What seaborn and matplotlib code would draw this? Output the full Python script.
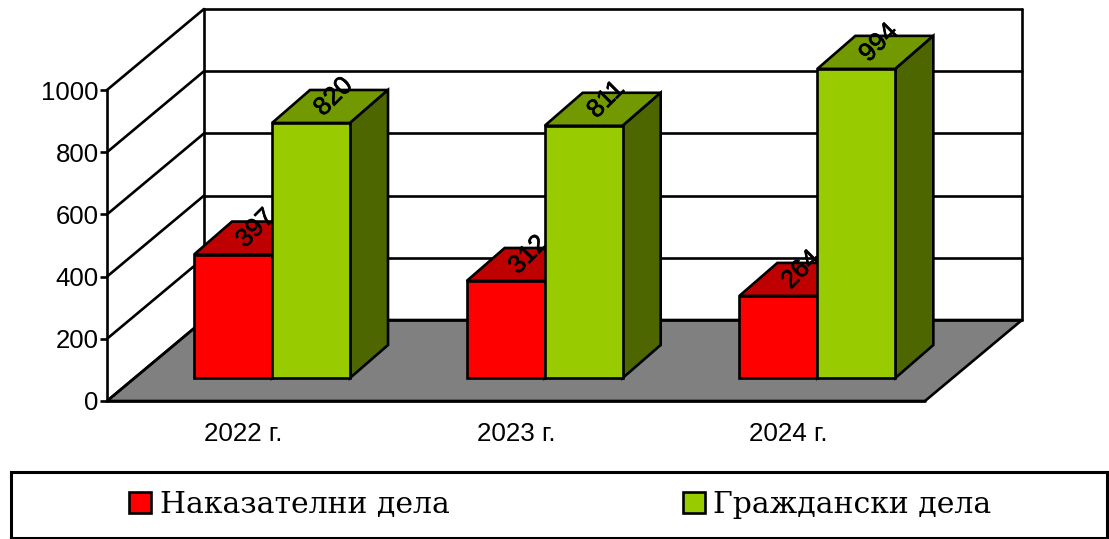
import matplotlib
matplotlib.use("Agg")
import matplotlib.pyplot as plt
import matplotlib.patheffects as pe
import seaborn as sns
import pandas as pd
from matplotlib.patches import Patch, Polygon, Rectangle

# values
years = ["2022 г.", "2023 г.", "2024 г."]
criminal = [397, 312, 264]
civil = [820, 811, 994]
series_names = ["Наказателни дела", "Граждански дела"]
y_ticks = [0, 200, 400, 600, 800, 1000]

# colours: front, top, side
face_colors = ["#FF0000", "#99CC00"]
top_colors = ["#BF0000", "#739900"]
side_colors = ["#800000", "#4D6600"]

W, H = 1109, 539
LEFT, RIGHT, BASE, TOP = 107, 925, 401, 90
LW = 1.9

sns.set_theme(style="white")
plt.rcParams["font.family"] = ["Liberation Sans", "DejaVu Sans"]

df = pd.DataFrame({
    "year": years * 2,
    "count": criminal + civil,
    "kind": [series_names[0]] * 3 + [series_names[1]] * 3,
})

fig = plt.figure(figsize=(W / 100, H / 100), dpi=100)
ax = fig.add_axes([LEFT / W, 1 - BASE / H, (RIGHT - LEFT) / W, (BASE - TOP) / H])

sns.barplot(
    data=df, x="year", y="count", hue="kind", order=years, hue_order=series_names,
    palette=face_colors, saturation=1, width=0.572, gap=0, edgecolor="black", linewidth=LW,
    legend=False, ax=ax, clip_on=False, zorder=5,
)

ax.set_xlim(-0.5, 2.5)
ax.set_ylim(0, 1000)

# pixels to data units
px_x = 3 / (RIGHT - LEFT)
px_y = 1000 / (BASE - TOP)


def dx(p):
    return p * px_x


def dy(p):
    return p * px_y


# bars come first in ax.patches, the room is added after this
bars = [p for p in ax.patches if isinstance(p, Rectangle)]

# room: floor, side wall and back wall
wall_x, wall_y = dx(97), dy(81)
ax.add_patch(Polygon(
    [(-0.5, 0), (2.5, 0), (2.5 + wall_x, wall_y), (-0.5 + wall_x, wall_y)],
    closed=True, facecolor="#808080", edgecolor="black", linewidth=LW,
    clip_on=False, zorder=1,
))
for t in y_ticks:
    ax.plot([-0.5, -0.5 + wall_x], [t, t + wall_y], color="black", lw=LW,
            clip_on=False, zorder=2, solid_capstyle="round")
    ax.plot([-0.5 + wall_x, 2.5 + wall_x], [t + wall_y, t + wall_y], color="black",
            lw=LW, clip_on=False, zorder=2)
ax.plot([-0.5 + wall_x] * 2, [wall_y, 1000 + wall_y], color="black", lw=LW,
        clip_on=False, zorder=2)
ax.plot([2.5 + wall_x] * 2, [wall_y, 1000 + wall_y], color="black", lw=LW,
        clip_on=False, zorder=2)

# bars sit part way into the room, then get a top and a side
shift_x, shift_y = dx(28.7), dy(23)
depth_x, depth_y = dx(38), dy(33)

for i, bar in enumerate(bars):
    s = i // 3
    z = 5 + (i % 3) * 3 + s * 0.5
    value = bar.get_height()
    x0 = bar.get_x() + shift_x
    w = bar.get_width()
    bar.set_x(x0)
    bar.set_y(shift_y)
    bar.set_zorder(z + 0.2)
    y1 = shift_y + value
    ax.add_patch(Polygon(
        [(x0, y1), (x0 + w, y1), (x0 + w + depth_x, y1 + depth_y), (x0 + depth_x, y1 + depth_y)],
        closed=True, facecolor=top_colors[s], edgecolor="black", linewidth=LW,
        clip_on=False, zorder=z,
    ))
    ax.add_patch(Polygon(
        [(x0 + w, shift_y), (x0 + w + depth_x, shift_y + depth_y),
         (x0 + w + depth_x, y1 + depth_y), (x0 + w, y1)],
        closed=True, facecolor=side_colors[s], edgecolor="black", linewidth=LW,
        clip_on=False, zorder=z,
    ))
    # red labels go behind the green bar next to them
    ax.annotate(
        f"{value:.0f}", (x0 + w / 2 + depth_x / 2, y1 + depth_y / 2),
        xytext=(2.5, 7), textcoords="offset points", rotation=45,
        ha="center", va="center", rotation_mode="anchor",
        fontsize=18.5, color="black", zorder=z + 0.3, annotation_clip=False,
        path_effects=[pe.withStroke(linewidth=0.5, foreground="black")],
    )

# axes
sns.despine(ax=ax, left=True, bottom=True, right=True, top=True)
ax.plot([-0.5, -0.5], [0, 1000], color="black", lw=LW, clip_on=False, zorder=3)
ax.plot([-0.5, 2.5], [0, 0], color="black", lw=LW, clip_on=False, zorder=3)
ax.set_yticks(y_ticks)
ax.set_xticks(range(len(years)))
ax.set_xticklabels(years, fontsize=18.7)
ax.set_xlabel("")
ax.set_ylabel("")
ax.tick_params(axis="y", left=True, length=5, width=LW, color="black", labelsize=18.5, pad=1,
               labelcolor="black")
ax.tick_params(axis="x", bottom=False, pad=9, labelcolor="black")

# legend
fig.add_artist(Rectangle((10.5 / W, 1 - 538 / H), 1096 / W, 66 / H, transform=fig.transFigure,
                         facecolor="white", edgecolor="black", linewidth=2.2))
handles = [Patch(facecolor=c, edgecolor="black", linewidth=LW, label=n)
           for c, n in zip(face_colors, series_names)]
leg = fig.legend(
    handles=handles, ncol=2, loc="center", bbox_to_anchor=(560.5 / W, 1 - 505 / H),
    frameon=False, prop={"family": ["DejaVu Serif"], "size": 21.5}, labelcolor="black",
    handlelength=0.74, handleheight=0.74, handletextpad=0.27, columnspacing=7.83,
    borderpad=0, borderaxespad=0,
)
leg.set_zorder(10)

fig.savefig("out.png", dpi=100)
